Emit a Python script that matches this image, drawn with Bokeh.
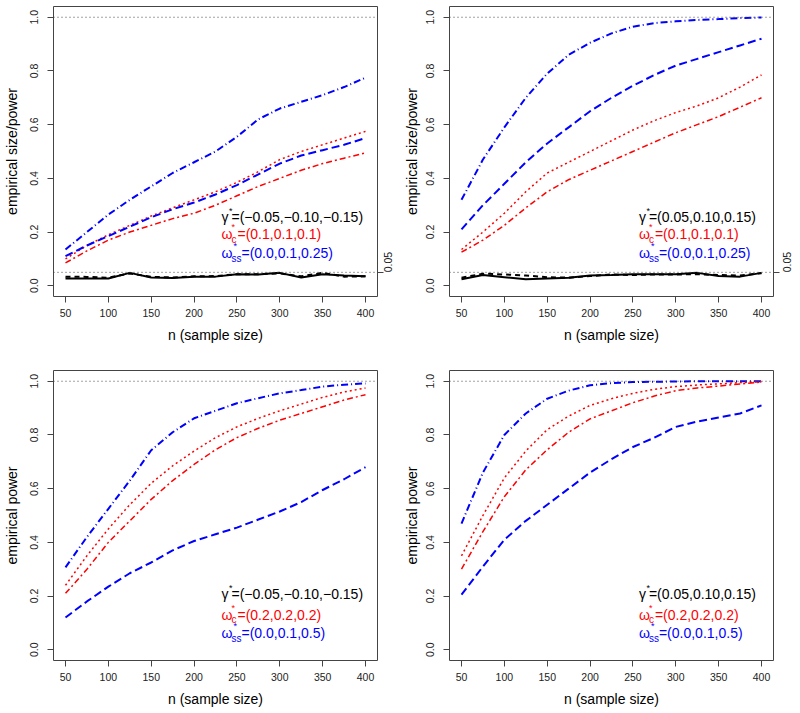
import math
from bokeh.plotting import figure
from bokeh.models import Range1d, LinearAxis, FixedTicker, PrintfTickFormatter, Span, Label
from bokeh.layouts import column, row
from bokeh.embed import file_html
from bokeh.resources import INLINE

# ---------------- data ----------------
n_vals = [50, 75, 100, 125, 150, 175, 200, 225, 250, 275, 300, 325, 350, 375, 400]
x_ticks = [50, 100, 150, 200, 250, 300, 350, 400]
y_ticks = [0.0, 0.2, 0.4, 0.6, 0.8, 1.0]

# top-left (size/power, gamma negative)
tl_blue_dotdash = [0.135, 0.20, 0.265, 0.32, 0.37, 0.42, 0.46, 0.50, 0.555, 0.62, 0.66, 0.685, 0.71, 0.74, 0.775]
tl_blue_dashed = [0.11, 0.15, 0.185, 0.22, 0.255, 0.285, 0.31, 0.34, 0.375, 0.415, 0.455, 0.485, 0.505, 0.525, 0.55]
tl_red_dotted = [0.10, 0.15, 0.19, 0.225, 0.26, 0.29, 0.32, 0.35, 0.385, 0.425, 0.47, 0.50, 0.525, 0.55, 0.575]
tl_red_dotdash = [0.085, 0.13, 0.17, 0.20, 0.225, 0.25, 0.27, 0.30, 0.335, 0.37, 0.40, 0.43, 0.455, 0.475, 0.495]
tl_black_solid = [0.027, 0.027, 0.027, 0.048, 0.031, 0.029, 0.034, 0.034, 0.043, 0.042, 0.048, 0.031, 0.043, 0.038, 0.035]
tl_black_dashed = [0.034, 0.033, 0.030, 0.046, 0.033, 0.031, 0.035, 0.036, 0.043, 0.043, 0.046, 0.035, 0.048, 0.034, 0.035]

# top-right (size/power, gamma positive)
tr_blue_dotdash = [0.32, 0.47, 0.59, 0.70, 0.79, 0.86, 0.905, 0.94, 0.965, 0.978, 0.985, 0.99, 0.993, 0.997, 0.999]
tr_blue_dashed = [0.21, 0.30, 0.38, 0.46, 0.53, 0.59, 0.65, 0.70, 0.745, 0.785, 0.82, 0.845, 0.87, 0.895, 0.92]
tr_red_dotted = [0.135, 0.20, 0.27, 0.35, 0.42, 0.46, 0.50, 0.54, 0.58, 0.615, 0.645, 0.67, 0.70, 0.74, 0.785]
tr_red_dotdash = [0.125, 0.17, 0.225, 0.29, 0.35, 0.395, 0.43, 0.465, 0.50, 0.535, 0.57, 0.60, 0.63, 0.665, 0.70]
tr_black_solid = [0.024, 0.04, 0.032, 0.024, 0.027, 0.03, 0.038, 0.04, 0.043, 0.043, 0.043, 0.048, 0.036, 0.034, 0.048]
tr_black_dashed = [0.03, 0.045, 0.042, 0.038, 0.032, 0.03, 0.036, 0.042, 0.04, 0.042, 0.042, 0.043, 0.04, 0.038, 0.047]

# bottom-left (power, gamma negative)
bl_blue_dotdash = [0.307, 0.42, 0.525, 0.63, 0.743, 0.81, 0.862, 0.89, 0.918, 0.937, 0.955, 0.967, 0.98, 0.987, 0.992]
bl_blue_dashed = [0.12, 0.18, 0.235, 0.285, 0.325, 0.37, 0.405, 0.43, 0.455, 0.485, 0.515, 0.55, 0.595, 0.635, 0.68]
bl_red_dotted = [0.24, 0.35, 0.45, 0.54, 0.62, 0.685, 0.74, 0.79, 0.83, 0.862, 0.89, 0.915, 0.94, 0.96, 0.975]
bl_red_dotdash = [0.21, 0.30, 0.40, 0.48, 0.56, 0.63, 0.69, 0.745, 0.79, 0.825, 0.855, 0.88, 0.905, 0.93, 0.95]

# bottom-right (power, gamma positive)
br_blue_dotdash = [0.47, 0.66, 0.80, 0.88, 0.935, 0.965, 0.985, 0.993, 0.997, 0.998, 0.999, 1.0, 1.0, 1.0, 1.0]
br_blue_dashed = [0.205, 0.31, 0.41, 0.48, 0.54, 0.60, 0.66, 0.71, 0.755, 0.79, 0.83, 0.85, 0.865, 0.88, 0.91]
br_red_dotted = [0.35, 0.50, 0.64, 0.74, 0.82, 0.87, 0.91, 0.935, 0.955, 0.97, 0.98, 0.986, 0.99, 0.995, 0.998]
br_red_dotdash = [0.30, 0.44, 0.57, 0.67, 0.745, 0.81, 0.86, 0.89, 0.92, 0.945, 0.965, 0.975, 0.982, 0.99, 0.997]

# annotation texts
gamma_neg = "=(\u22120.05,\u22120.10,\u22120.15)"
gamma_pos = "=(0.05,0.10,0.15)"
wc_top = "=(0.1,0.1,0.1)"
wss_top = "=(0.0,0.1,0.25)"
wc_bot = "=(0.2,0.2,0.2)"
wss_bot = "=(0.0,0.1,0.5)"

FONT = "Liberation Sans"
TICK_FONT = "Liberation Sans Narrow, Liberation Sans"
BOX = "#444444"


def make_panel(ylabel, height, bl, br, bt, bb, size_panel, ytitle_standoff):
    p = figure(width=400, height=height, output_backend="svg", toolbar_location=None,
               x_range=Range1d(36, 414), y_range=Range1d(-0.04, 1.04),
               min_border_left=bl, min_border_right=br, min_border_top=bt, min_border_bottom=bb)
    p.xgrid.grid_line_color = None
    p.ygrid.grid_line_color = None
    p.outline_line_color = BOX
    p.outline_line_width = 1
    p.background_fill_color = "white"
    p.border_fill_color = "white"

    for ax in (p.xaxis[0], p.yaxis[0]):
        ax.axis_line_color = None
        ax.major_tick_line_color = BOX
        ax.major_tick_out = 6
        ax.major_tick_in = 0
        ax.minor_tick_line_color = None
        ax.major_label_text_font = TICK_FONT
        ax.major_label_text_font_size = "10.5px"
        ax.major_label_text_color = "#222222"
        ax.axis_label_text_font = FONT
        ax.axis_label_text_font_size = "14px"
        ax.axis_label_text_font_style = "normal"
        ax.axis_label_text_color = "black"

    p.xaxis[0].major_label_standoff = 6
    p.xaxis[0].axis_label_standoff = 7
    p.yaxis[0].major_label_standoff = 9
    p.yaxis[0].axis_label_standoff = ytitle_standoff

    p.xaxis[0].ticker = FixedTicker(ticks=x_ticks)
    p.xaxis[0].axis_label = "n (sample size)"
    p.yaxis[0].ticker = FixedTicker(ticks=y_ticks)
    p.yaxis[0].formatter = PrintfTickFormatter(format="%.1f")
    p.yaxis[0].major_label_orientation = "vertical"
    p.yaxis[0].axis_label = ylabel

    p.add_layout(Span(location=1.0, dimension="width", line_color=BOX, line_dash="1 3", line_width=1))
    if size_panel:
        p.add_layout(Span(location=0.05, dimension="width", line_color=BOX, line_dash="1 3", line_width=1))
        rax = LinearAxis(ticker=FixedTicker(ticks=[0.05]), formatter=PrintfTickFormatter(format="%.2f"))
        rax.axis_line_color = None
        rax.major_tick_line_color = BOX
        rax.major_tick_out = 6
        rax.major_tick_in = 0
        rax.minor_tick_line_color = None
        rax.major_label_text_font = TICK_FONT
        rax.major_label_text_font_size = "10.5px"
        rax.major_label_text_color = "#222222"
        rax.major_label_standoff = 5 if br < 25 else 8
        rax.major_label_orientation = math.pi / 2
        p.add_layout(rax, "right")
    return p


def add_curves(p, blue_dd, blue_d, red_dot, red_dd, black_s=None, black_d=None):
    p.line(n_vals, blue_dd, line_color="#0000FF", line_width=2, line_dash="7 3 1 3")
    p.line(n_vals, red_dot, line_color="#FF0000", line_width=1.5, line_dash="2 3")
    p.line(n_vals, blue_d, line_color="#0000FF", line_width=2, line_dash="8 4")
    p.line(n_vals, red_dd, line_color="#FF0000", line_width=1.5, line_dash="6 3 2 3")
    if black_s is not None:
        p.line(n_vals, black_s, line_color="black", line_width=2)
        p.line(n_vals, black_d, line_color="black", line_width=2, line_dash="5 4")


def add_ann(p, x, ys, gtxt, wctxt, wsstxt):
    def lab(text, y, color, xo=0, yo=0, size="14px"):
        p.add_layout(Label(x=x, y=y, x_units="data", y_units="data", text=text,
                           text_font=FONT, text_font_size=size, text_color=color,
                           text_baseline="middle", text_align="left",
                           x_offset=xo, y_offset=yo))
    y1, y2, y3 = ys
    lab("\u03b3", y1, "black")
    lab("*", y1, "black", xo=7.5, yo=6, size="9px")
    lab(gtxt, y1, "black", xo=10)
    lab("\u03c9", y2, "#FF0000")
    lab("*", y2, "#FF0000", xo=10, yo=7, size="9px")
    lab("c", y2, "#FF0000", xo=10, yo=-5, size="10px")
    lab(wctxt, y2, "#FF0000", xo=16)
    lab("\u03c9", y3, "#0000FF")
    lab("*", y3, "#0000FF", xo=12, yo=7, size="9px")
    lab("ss", y3, "#0000FF", xo=10, yo=-5, size="10px")
    lab(wsstxt, y3, "#0000FF", xo=20)


p1 = make_panel("empirical size/power", 356, 53, 23, 6, 60, True, 8)
add_curves(p1, tl_blue_dotdash, tl_blue_dashed, tl_red_dotted, tl_red_dotdash, tl_black_solid, tl_black_dashed)
add_ann(p1, 232, (0.256, 0.191, 0.122), gamma_neg, wc_top, wss_top)

p2 = make_panel("empirical size/power", 356, 49, 27, 6, 60, True, 4)
add_curves(p2, tr_blue_dotdash, tr_blue_dashed, tr_red_dotted, tr_red_dotdash, tr_black_solid, tr_black_dashed)
add_ann(p2, 257, (0.256, 0.191, 0.122), gamma_pos, wc_top, wss_top)

p3 = make_panel("empirical power", 357, 53, 23, 14, 53, False, 8)
add_curves(p3, bl_blue_dotdash, bl_blue_dashed, bl_red_dotted, bl_red_dotdash)
add_ann(p3, 232, (0.208, 0.130, 0.061), gamma_neg, wc_bot, wss_bot)

p4 = make_panel("empirical power", 357, 49, 27, 14, 53, False, 4)
add_curves(p4, br_blue_dotdash, br_blue_dashed, br_red_dotted, br_red_dotdash)
add_ann(p4, 257, (0.208, 0.130, 0.061), gamma_pos, wc_bot, wss_bot)

layout = column(row(p1, p2), row(p3, p4))
open("out.html", "w").write(file_html(layout, INLINE))
